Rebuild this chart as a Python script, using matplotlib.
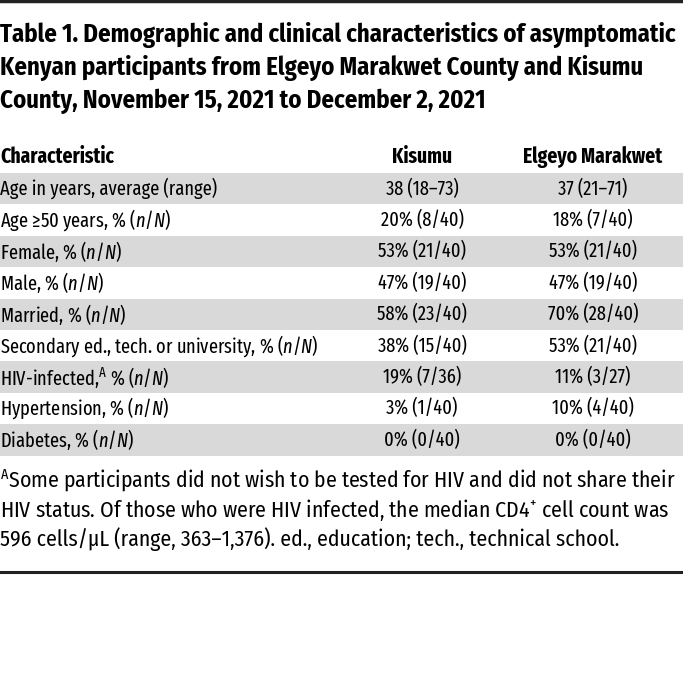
import matplotlib.pyplot as plt
from matplotlib import font_manager

# 表格内容
title_lines = ["Table 1. Demographic and clinical characteristics of asymptomatic",
               "Kenyan participants from Elgeyo Marakwet County and Kisumu",
               "County, November 15, 2021 to December 2, 2021"]
col_headers = ["Characteristic", "Kisumu", "Elgeyo Marakwet"]
characteristics = ["Age in years, average (range)",
                   r"Age ≥50 years, % ($n$/$N$)",
                   r"Female, % ($n$/$N$)",
                   r"Male, % ($n$/$N$)",
                   r"Married, % ($n$/$N$)",
                   r"Secondary ed., tech. or university, % ($n$/$N$)",
                   r"HIV-infected,$^{\rm A}$ % ($n$/$N$)",
                   r"Hypertension, % ($n$/$N$)",
                   r"Diabetes, % ($n$/$N$)"]
kisumu = ["38 (18–73)", "20% (8/40)", "53% (21/40)", "47% (19/40)", "58% (23/40)",
          "38% (15/40)", "19% (7/36)", "3% (1/40)", "0% (0/40)"]
elgeyo = ["37 (21–71)", "18% (7/40)", "53% (21/40)", "47% (19/40)", "70% (28/40)",
          "53% (21/40)", "11% (3/27)", "10% (4/40)", "0% (0/40)"]
footnote = [r"$^{\rm A}$Some participants did not wish to be tested for HIV and did not share their",
            r"HIV status. Of those who were HIV infected, the median CD4$^{+}$ cell count was",
            "596 cells/μL (range, 363–1,376). ed., education; tech., technical school."]

# 字体：窄体优先
names = {f.name for f in font_manager.fontManager.ttflist}
cond = "Fira Sans Condensed" if "Fira Sans Condensed" in names else "DejaVu Sans"
xcond = "Fira Sans Extra Condensed" if "Fira Sans Extra Condensed" in names else cond
plt.rcParams['font.family'] = [xcond, "DejaVu Sans"]
plt.rcParams['mathtext.fontset'] = 'custom'
plt.rcParams['mathtext.rm'] = xcond
plt.rcParams['mathtext.it'] = xcond + ':italic'

fig = plt.figure(figsize=(6.83, 6.90), dpi=100)
ax = fig.add_axes([0, 0, 1, 1])
ax.set_xlim(0, 683)
ax.set_ylim(690, 0)
ax.axis('off')
renderer = fig.canvas.get_renderer()


def fit_size(text, width, **kw):
    # 按参考图中文字宽度求字号
    t = ax.text(0, 0, text, fontsize=10, **kw)
    w = t.get_window_extent(renderer).width
    t.remove()
    return 10 * width / w


# 顶部和底部的线
ax.plot([0, 683], [1, 1], color='#222222', lw=2.5)
ax.plot([0, 683], [572, 572], color='#222222', lw=2.2)

# 标题
title_fs = fit_size(title_lines[0], 677, family=[cond, "DejaVu Sans"], fontweight='bold')
for i, line in enumerate(title_lines):
    ax.text(0, 35 + i * 33, line, fontsize=title_fs, fontweight='bold', va='center', ha='left',
            family=[cond, "DejaVu Sans"])

# 表头
kis_x, elg_x = 422, 593
head_fs = fit_size(col_headers[2], 139, fontweight='bold')
ax.text(0, 157, col_headers[0], fontsize=head_fs, fontweight='bold', va='center')
ax.text(kis_x, 157, col_headers[1], fontsize=head_fs, fontweight='bold', va='center', ha='center')
ax.text(elg_x, 157, col_headers[2], fontsize=head_fs, fontweight='bold', va='center', ha='center')

# 数据行
row_top, row_h = 173, 31.4
fs = fit_size(characteristics[0], 217)
for i in range(len(characteristics)):
    yc = row_top + row_h * (i + 0.5)
    if i % 2 == 0:
        ax.axhspan(row_top + i * row_h, row_top + (i + 1) * row_h, color='#d9d9d9', lw=0, zorder=0)
    ax.text(0, yc, characteristics[i], fontsize=fs, va='center')
    ax.text(kis_x, yc, kisumu[i], fontsize=fs, va='center', ha='center')
    ax.text(elg_x, yc, elgeyo[i], fontsize=fs, va='center', ha='center')

# 脚注
foot_fs = fit_size(footnote[0], 677, family=[cond, "DejaVu Sans"])
for i, line in enumerate(footnote):
    ax.text(0, 481 + i * 29, line, fontsize=foot_fs, va='center', family=[cond, "DejaVu Sans"])

fig.savefig('out.png', dpi=100)
